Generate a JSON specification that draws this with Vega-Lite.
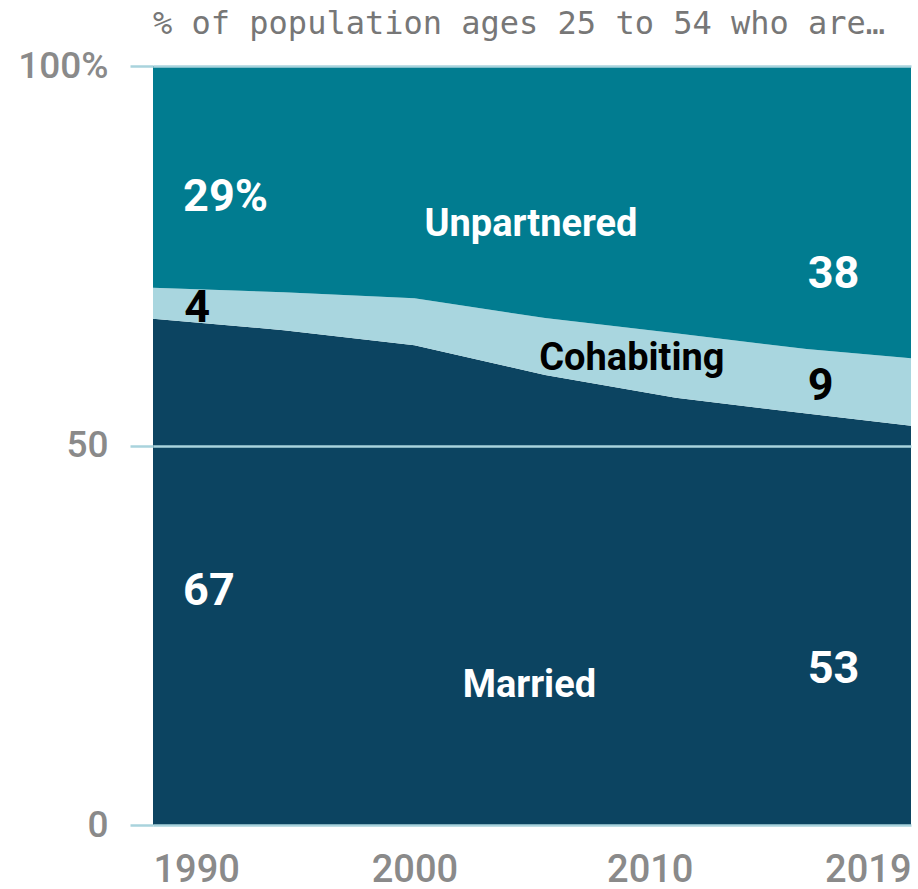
{
  "$schema": "https://vega.github.io/schema/vega-lite/v6.json",
  "autosize": {"type": "none"},
  "width": 758,
  "height": 759,
  "padding": {"left": 153, "top": 66, "right": 7, "bottom": 64},
  "background": "white",
  "config": {"view": {"stroke": null}},
  "title": {
    "text": "% of population ages 25 to 54 who are…",
    "anchor": "start",
    "frame": "group",
    "font": "DejaVu Sans Mono",
    "fontSize": 32,
    "fontWeight": "normal",
    "color": "#777777",
    "offset": 6
  },
  "datasets": {
    "shares": [
      {"year": 1990, "status": "Married", "ord": 1, "pct": 66.7},
      {"year": 1990, "status": "Cohabiting", "ord": 2, "pct": 4.1},
      {"year": 1990, "status": "Unpartnered", "ord": 3, "pct": 29.2},
      {"year": 1995, "status": "Married", "ord": 1, "pct": 65.2},
      {"year": 1995, "status": "Cohabiting", "ord": 2, "pct": 5.0},
      {"year": 1995, "status": "Unpartnered", "ord": 3, "pct": 29.8},
      {"year": 2000, "status": "Married", "ord": 1, "pct": 63.2},
      {"year": 2000, "status": "Cohabiting", "ord": 2, "pct": 6.2},
      {"year": 2000, "status": "Unpartnered", "ord": 3, "pct": 30.6},
      {"year": 2005, "status": "Married", "ord": 1, "pct": 59.3},
      {"year": 2005, "status": "Cohabiting", "ord": 2, "pct": 7.5},
      {"year": 2005, "status": "Unpartnered", "ord": 3, "pct": 33.2},
      {"year": 2010, "status": "Married", "ord": 1, "pct": 56.3},
      {"year": 2010, "status": "Cohabiting", "ord": 2, "pct": 8.5},
      {"year": 2010, "status": "Unpartnered", "ord": 3, "pct": 35.2},
      {"year": 2015, "status": "Married", "ord": 1, "pct": 54.2},
      {"year": 2015, "status": "Cohabiting", "ord": 2, "pct": 8.5},
      {"year": 2015, "status": "Unpartnered", "ord": 3, "pct": 37.3},
      {"year": 2019, "status": "Married", "ord": 1, "pct": 52.6},
      {"year": 2019, "status": "Cohabiting", "ord": 2, "pct": 8.9},
      {"year": 2019, "status": "Unpartnered", "ord": 3, "pct": 38.5}
    ],
    "labels": [
      {"kind": "start", "series": "Unpartnered", "year": 1991.15, "pct": 80.9, "text": "29%"},
      {"kind": "start", "series": "Cohabiting", "year": 1991.2, "pct": 66.3, "text": "4"},
      {"kind": "start", "series": "Married", "year": 1991.15, "pct": 29.0, "text": "67"},
      {"kind": "end", "series": "Unpartnered", "year": 2015.05, "pct": 70.8, "text": "38"},
      {"kind": "end", "series": "Cohabiting", "year": 2015.05, "pct": 56.0, "text": "9"},
      {"kind": "end", "series": "Married", "year": 2015.05, "pct": 18.7, "text": "53"},
      {"kind": "name", "series": "Unpartnered", "year": 2004.46, "pct": 77.6, "text": "Unpartnered"},
      {"kind": "name", "series": "Cohabiting", "year": 2008.32, "pct": 59.9, "text": "Cohabiting"},
      {"kind": "name", "series": "Married", "year": 2004.4, "pct": 16.9, "text": "Married"}
    ]
  },
  "layer": [
    {
      "data": {"name": "shares"},
      "mark": {"type": "area", "interpolate": "linear"},
      "encoding": {
        "x": {
          "field": "year", "type": "quantitative",
          "scale": {"domain": [1990, 2019], "nice": false, "zero": false},
          "axis": {
            "title": null,
            "values": [1990, 2000, 2010, 2019],
            "format": "d",
            "domain": false,
            "ticks": false,
            "grid": false,
            "labelFont": "Roboto",
            "labelFontSize": 38,
            "labelFontWeight": 500,
            "labelColor": "#8a8a8a",
            "labelPadding": 26,
            "labelFlush": false,
            "labelOverlap": false,
            "labelOffset": {"expr": "datum.value == 2010 ? -26 : 0"},
            "labelAlign": {"expr": "datum.value == 1990 ? 'left' : datum.value == 2019 ? 'right' : 'center'"}
          }
        },
        "y": {
          "field": "pct", "type": "quantitative", "stack": "zero",
          "scale": {"domain": [0, 100], "nice": false},
          "axis": {
            "title": null,
            "values": [0, 50, 100],
            "labelExpr": "datum.value == 100 ? '100%' : datum.label",
            "domain": false,
            "ticks": true,
            "tickSize": 23,
            "tickColor": "#a9d3dd",
            "tickWidth": 2.5,
            "grid": true,
            "gridColor": "#a9d3dd",
            "gridWidth": 2.5,
            "labelFont": "Roboto",
            "labelFontSize": 37,
            "labelFontWeight": 500,
            "labelColor": "#8a8a8a",
            "labelPadding": 22,
            "zindex": 1
          }
        },
        "color": {
          "field": "status", "type": "nominal",
          "scale": {"domain": ["Married", "Cohabiting", "Unpartnered"], "range": ["#0c4461", "#a9d6df", "#017c90"]},
          "legend": null
        },
        "order": {"field": "ord", "type": "quantitative"}
      }
    },
    {
      "data": {"name": "labels"},
      "transform": [{"filter": "datum.kind != 'name'"}],
      "mark": {"type": "text", "font": "Roboto", "fontWeight": "bold", "fontSize": 45, "align": "left", "baseline": "alphabetic"},
      "encoding": {
        "x": {"field": "year", "type": "quantitative"},
        "y": {"field": "pct", "type": "quantitative"},
        "text": {"field": "text"},
        "fill": {"condition": {"test": "datum.series == 'Cohabiting'", "value": "#000000"}, "value": "#ffffff"}
      }
    },
    {
      "data": {"name": "labels"},
      "transform": [{"filter": "datum.kind == 'name'"}],
      "mark": {"type": "text", "font": "Roboto", "fontWeight": "bold", "fontSize": 38, "align": "center", "baseline": "alphabetic"},
      "encoding": {
        "x": {"field": "year", "type": "quantitative"},
        "y": {"field": "pct", "type": "quantitative"},
        "text": {"field": "text"},
        "fill": {"condition": {"test": "datum.series == 'Cohabiting'", "value": "#000000"}, "value": "#ffffff"}
      }
    }
  ]
}
